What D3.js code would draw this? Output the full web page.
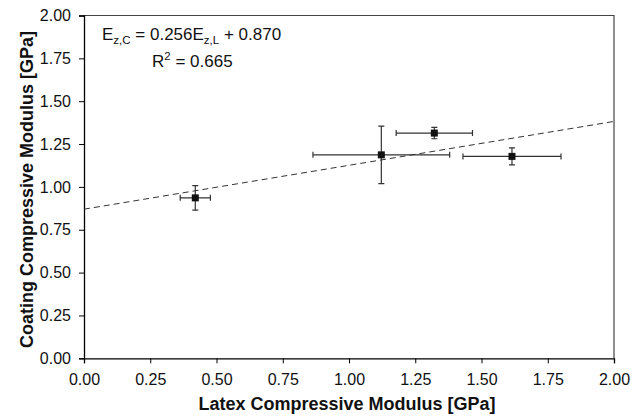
<!DOCTYPE html>
<html><head><meta charset="utf-8">
<script src="https://cdn.jsdelivr.net/npm/d3@7"></script>
<style>body{margin:0;background:#fff}svg{display:block}text{font-family:"Liberation Sans",Arial,sans-serif}</style>
</head><body>
<svg id="chart" width="644" height="419"></svg>
<script>
const latex = [0.42, 1.122, 1.322, 1.615];
const latexErr = [0.057, 0.258, 0.144, 0.185];
const coating = [0.936, 1.187, 1.314, 1.178];
const coatingErr = [0.072, 0.168, 0.033, 0.05];
const fitSlope = 0.256, fitIntercept = 0.870;
const xTicks = [0, 0.25, 0.5, 0.75, 1, 1.25, 1.5, 1.75, 2];
const yTicks = [0, 0.25, 0.5, 0.75, 1, 1.25, 1.5, 1.75, 2];

const svg = d3.select("#chart");
const L = 84, R = 614, T = 15.5, B = 358.3;
const x = d3.scaleLinear().domain([0, 2]).range([L, R]);
const y = d3.scaleLinear().domain([0, 2]).range([B, T]);

// frame top/right
svg.append("path").attr("d", `M${L},${T}H${R}V${B}`).attr("fill","none").attr("stroke","#444").attr("stroke-width",1.2);

const xAxis = svg.append("g").attr("transform",`translate(0,${B})`)
  .call(d3.axisBottom(x).tickValues(xTicks).tickFormat(d3.format(".2f")).tickSize(5).tickPadding(10));
const yAxis = svg.append("g").attr("transform",`translate(${L},0)`)
  .call(d3.axisLeft(y).tickValues(yTicks).tickFormat(d3.format(".2f")).tickSize(5).tickPadding(8));
[xAxis, yAxis].forEach(g => {
  g.select(".domain").attr("stroke","#000").attr("stroke-width",1.3);
  g.selectAll(".tick line").attr("stroke","#000");
  g.selectAll(".tick text").attr("font-size",16).attr("fill","#111").attr("font-family","'Liberation Sans',Arial,sans-serif");
});

// trend line
svg.append("line").attr("x1",x(0)).attr("y1",y(fitIntercept)).attr("x2",x(2)).attr("y2",y(fitIntercept+2*fitSlope))
  .attr("stroke","#333").attr("stroke-width",1).attr("stroke-dasharray","6,4");

// error bars
const pts = latex.map((v,i)=>({x:v, y:coating[i], ex:latexErr[i], ey:coatingErr[i]}));
const eb = svg.append("g").attr("stroke","#333").attr("stroke-width",1.2).attr("fill","none");
const cap = 3;
pts.forEach(p=>{
  const cx = x(p.x), cy = y(p.y);
  const x0 = x(p.x-p.ex), x1 = x(p.x+p.ex), y0 = y(p.y+p.ey), y1 = y(p.y-p.ey);
  eb.append("path").attr("d",`M${x0},${cy}H${x1}M${x0},${cy-cap}V${cy+cap}M${x1},${cy-cap}V${cy+cap}`);
  eb.append("path").attr("d",`M${cx},${y0}V${y1}M${cx-cap},${y0}H${cx+cap}M${cx-cap},${y1}H${cx+cap}`);
});
svg.append("g").selectAll("rect").data(pts).join("rect")
  .attr("x",d=>x(d.x)-3.5).attr("y",d=>y(d.y)-3.5).attr("width",7).attr("height",7).attr("fill","#111");

// equation
const eq = svg.append("text").attr("x",102).attr("y",40).attr("font-size",17).attr("fill","#111");
eq.append("tspan").text("E");
eq.append("tspan").attr("font-size",11.5).attr("dy",4).text("z,C");
eq.append("tspan").attr("dy",-4).text(" = 0.256E");
eq.append("tspan").attr("font-size",11.5).attr("dy",4).text("z,L");
eq.append("tspan").attr("dy",-4).text(" + 0.870");
const r2 = svg.append("text").attr("x",152).attr("y",66.5).attr("font-size",17).attr("fill","#111");
r2.append("tspan").text("R");
r2.append("tspan").attr("font-size",11.5).attr("dy",-7).text("2");
r2.append("tspan").attr("dy",7).text(" = 0.665");

// axis titles
svg.append("text").attr("x",347).attr("y",410).attr("text-anchor","middle")
  .attr("font-size",18).attr("font-weight","bold").attr("fill","#111").text("Latex Compressive Modulus [GPa]");
svg.append("text").attr("transform",`translate(33,189.5) rotate(-90)`).attr("text-anchor","middle")
  .attr("font-size",18).attr("font-weight","bold").attr("fill","#111").text("Coating Compressive Modulus [GPa]");
</script>
</body></html>
